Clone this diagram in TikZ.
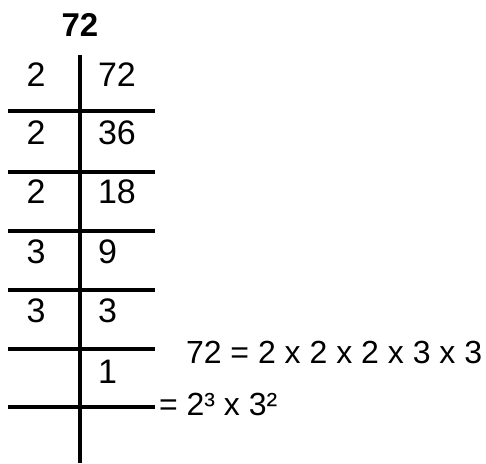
\documentclass[tikz,border=0pt]{standalone}
\usepackage{fontspec}
\setmainfont{Liberation Sans}
\usetikzlibrary{positioning}

\tikzset{
    digit/.style={font=\fontsize{34}{40}\selectfont, inner sep=0pt},
    result/.style={font=\fontsize{32}{38}\selectfont, inner sep=0pt, anchor=west}
}

\begin{document}
\begin{tikzpicture}[x=1pt, y=-1pt, line width=4pt]
    \useasboundingbox (0,0) rectangle (486,463);
    \node[digit, font=\fontsize{33}{38}\selectfont\bfseries] (title) at (80,25) {72};
    % the division ladder
    \coordinate (top) at (80,55);
    \coordinate (bottom) at (80,463);
    \draw (top) -- (bottom);
    \foreach \y [count=\i] in {111,172,231,290,349,407} {
        \coordinate (l\i) at (8,\y);
        \coordinate (r\i) at (155,\y);
        \draw (l\i) -- (r\i);
    }
    \foreach \d/\q/\y [count=\i] in {2/72/75,2/36/133,2/18/192,3/9/252,3/3/311} {
        \node[digit] (d\i) at (36,\y) {\d};
        \node[digit, anchor=west] (q\i) at (96,\y) {\q};
    }
    \node[digit, anchor=west] (q6) at (96,372) {1};
    % the result
    \node[result] (prod) at (184,352) {72 = 2 x 2 x 2 x 3 x 3};
    \node[result] (pow) at (157,404) {= 2³ x 3²};
\end{tikzpicture}
\end{document}
